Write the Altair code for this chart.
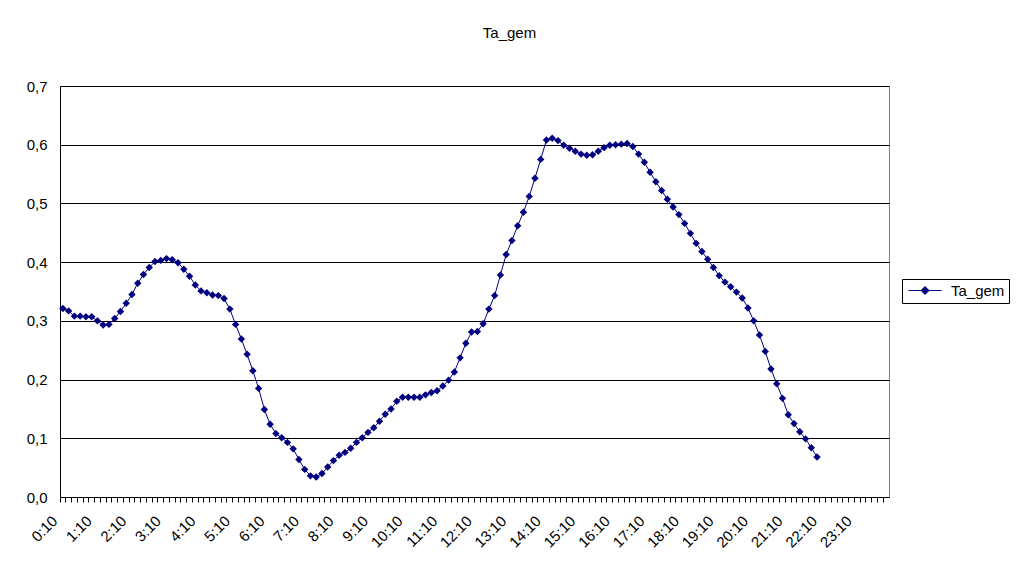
import altair as alt
import pandas as pd

# category labels: every 10 minutes from 0:10 to 24:00 (shown as 0:00)
categories = []
for m in range(10, 24 * 60 + 1, 10):
    mm = m % (24 * 60)
    categories.append(f"{mm // 60}:{mm % 60:02d}")

values = [
    0.321, 0.317, 0.308, 0.308, 0.307, 0.307, 0.300, 0.293, 0.294, 0.304,
    0.316, 0.330, 0.345, 0.364, 0.379, 0.391, 0.401, 0.403, 0.406, 0.404,
    0.399, 0.388, 0.376, 0.361, 0.351, 0.348, 0.344, 0.343, 0.338, 0.320,
    0.294, 0.269, 0.243, 0.215, 0.185, 0.149, 0.124, 0.108, 0.101, 0.093,
    0.082, 0.064, 0.047, 0.036, 0.034, 0.040, 0.051, 0.062, 0.071, 0.076,
    0.083, 0.093, 0.101, 0.110, 0.118, 0.129, 0.141, 0.150,
    0.163, 0.170, 0.170, 0.170, 0.170, 0.174, 0.178, 0.181, 0.189, 0.199,
    0.213, 0.237, 0.262, 0.281, 0.282, 0.295, 0.320, 0.343, 0.378, 0.413,
    0.437, 0.462, 0.485, 0.512, 0.543, 0.575, 0.608,
    0.611, 0.607, 0.599, 0.594, 0.589, 0.584, 0.582, 0.583, 0.589, 0.595,
    0.599, 0.600, 0.601, 0.602, 0.597, 0.584, 0.570, 0.553, 0.537, 0.522,
    0.507, 0.494, 0.481, 0.466, 0.449, 0.432, 0.418, 0.405, 0.391, 0.377,
    0.366, 0.358, 0.349, 0.339, 0.322, 0.300, 0.276, 0.248, 0.218, 0.193,
    0.168, 0.140, 0.125, 0.111, 0.099, 0.084, 0.068,
]

series_name = "Ta_gem"
y_ticks = [0.0, 0.1, 0.2, 0.3, 0.4, 0.5, 0.6, 0.7]

df = pd.DataFrame({
    "time": categories[: len(values)],
    "value": values,
    "series": [series_name] * len(values),
})

NAVY = "#000080"
FONT = "Liberation Sans"

x_enc = alt.X(
    "time:O",
    sort=categories,
    scale=alt.Scale(type="band", domain=categories, paddingInner=0, paddingOuter=0),
    axis=alt.Axis(
        title=None,
        bandPosition=0,
        tickSize=5,
        tickColor="black",
        domainColor="black",
        labelAngle=-45,
        labelFontSize=15,
        labelFont=FONT,
        labelColor="black",
        labelOverlap=False,
        labelPadding=11,
        labelOffset=-13,
        labelExpr="slice(datum.value, -3) == ':10' ? datum.value : ''",
        grid=False,
    ),
)

y_enc = alt.Y(
    "value:Q",
    scale=alt.Scale(domain=[0, 0.7], nice=False, zero=True),
    axis=alt.Axis(
        title=None,
        values=y_ticks,
        tickSize=0,
        labelPadding=13,
        labelFontSize=15,
        labelFont=FONT,
        labelColor="black",
        labelExpr="replace(format(datum.value, '.1f'), '.', ',')",
        grid=True,
        gridColor="black",
        gridWidth=1,
        gridOpacity=1,
        domainColor="black",
    ),
)

line = alt.Chart(df).mark_line(color=NAVY, strokeWidth=1).encode(x=x_enc, y=y_enc)

points = alt.Chart(df).mark_point(
    shape="diamond", filled=True, size=55, opacity=1, color=NAVY
).encode(
    x=x_enc,
    y=y_enc,
    color=alt.Color(
        "series:N",
        scale=alt.Scale(range=[NAVY]),
        legend=alt.Legend(
            title=None,
            orient="none",
            legendX=842,
            legendY=193,
            strokeColor="black",
            fillColor="white",
            padding=4,
            symbolType="M-1,0L5.6,0M2.3,-0.8L3.1,0L2.3,0.8L1.5,0Z",
            symbolSize=100,
            symbolStrokeWidth=1,
            symbolStrokeColor=NAVY,
            symbolFillColor=NAVY,
            labelFontSize=15,
            labelFont=FONT,
            labelColor="black",
            labelOffset=30,
        ),
    ),
)

chart = (
    alt.layer(line, points)
    .properties(
        width=829,
        height=411,
        title=alt.TitleParams(
            "Ta_gem",
            fontSize=15,
            font=FONT,
            fontWeight="normal",
            color="black",
            dx=35,
            offset=38,
        ),
        autosize=alt.AutoSizeParams(type="none"),
        padding={"left": 52, "top": 78, "right": 121, "bottom": 60},
        background="white",
    )
    .configure_view(stroke="#808080", strokeWidth=1, fill="white")
)

chart.save("out.html", embed_options={"renderer": "svg", "actions": False})
